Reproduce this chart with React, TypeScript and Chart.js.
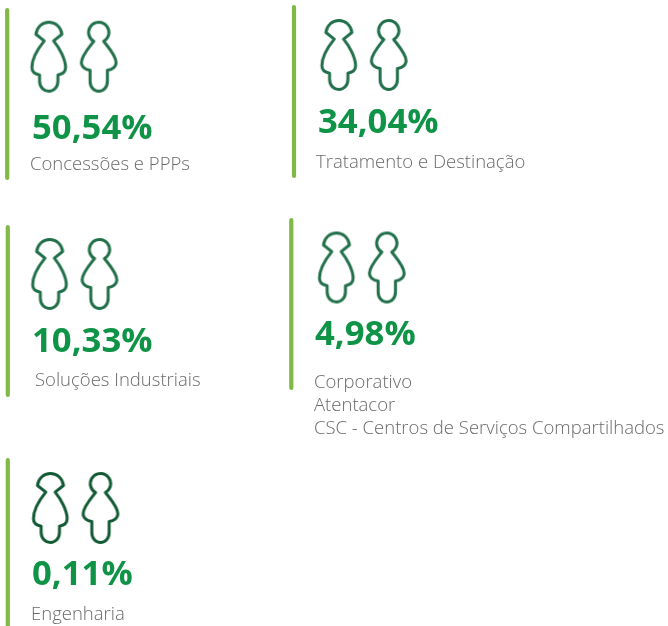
import React, { useEffect, useRef } from "react";
import { Chart, registerables } from "chart.js";

Chart.register(...registerables);

// ---- data ----
const categories: string[][] = [
  ["Concessões e PPPs"],
  ["Tratamento e Destinação"],
  ["Soluções Industriais"],
  ["Corporativo", "Atentacor", "CSC - Centros de Serviços Compartilhados"],
  ["Engenharia"],
];
const shares = [50.54, 34.04, 10.33, 4.98, 0.11];

// ---- layout, in page units of the hidden axes ----
const barX = [7.2, 294, 7.8, 291.3, 7.8];
const barTop = [10, 7, 227, 220, 460];
const barBottom = [178, 176, 395, 388, 640];
const femaleX = [48.7, 338.7, 49.5, 336.3, 50.3];
const maleX = [98.7, 388.7, 99.5, 386.8, 100.5];
const iconY = [56.7, 55, 274, 267.5, 508];
const valueX = [32, 318, 32, 315, 32];
const valueY = [138.5, 133, 351.5, 345, 585];
const labelX = [30, 316, 35, 314, 31];
const labelY = [170, 168, 386, 388, 620];
const labelLineHeight = 23;

const GREEN_BAR = "#82b946";
const GREEN_ICON = ["#21704a", "#21704a", "#21704a", "#21704a", "#125a34"];
const GREEN_VALUE = "#0f9447";
const GREY_TEXT = "#6a6a6a";

function iconCanvas(
  trace: (c: CanvasRenderingContext2D) => void,
  cx: number,
  cy: number,
  colour: string
) {
  const w = 60;
  const h = 90;
  const cv = document.createElement("canvas");
  cv.width = w;
  cv.height = h;
  const c = cv.getContext("2d")!;
  c.translate(w / 2, h / 2);
  c.scale(1 / 3, 1 / 3);
  c.translate(-cx, -cy);
  c.strokeStyle = colour;
  c.lineWidth = 9;
  c.lineJoin = "round";
  c.lineCap = "round";
  c.beginPath();
  trace(c);
  c.closePath();
  c.stroke();
  return cv;
}

function female(c: CanvasRenderingContext2D) {
  c.moveTo(72, 90);
  c.lineTo(47, 70);
  c.bezierCurveTo(50, 48, 66, 34, 86, 34);
  c.bezierCurveTo(106, 34, 122, 48, 125, 70);
  c.lineTo(100, 90);
  c.bezierCurveTo(118, 112, 136, 145, 136, 170);
  c.bezierCurveTo(136, 183, 126, 190, 113, 192);
  c.lineTo(113, 210);
  c.bezierCurveTo(113, 230, 100, 241, 86, 241);
  c.bezierCurveTo(72, 241, 58, 230, 58, 210);
  c.lineTo(58, 192);
  c.bezierCurveTo(45, 190, 35, 183, 35, 170);
  c.bezierCurveTo(35, 145, 54, 112, 72, 90);
}

function male(c: CanvasRenderingContext2D) {
  const deg = Math.PI / 180;
  c.arc(0, 64.5, 30.5, 119 * deg, 61 * deg, false);
  c.bezierCurveTo(28, 108, 52, 135, 52, 155);
  c.bezierCurveTo(52, 168, 40, 176, 26, 178);
  c.lineTo(26, 210);
  c.bezierCurveTo(26, 230, 14, 241, 0, 241);
  c.bezierCurveTo(-14, 241, -26, 230, -26, 210);
  c.lineTo(-26, 178);
  c.bezierCurveTo(-40, 176, -52, 168, -52, 155);
  c.bezierCurveTo(-52, 135, -28, 108, -14.8, 91);
}

const formatShare = (v: number) => v.toFixed(2).replace(".", ",") + "%";

const textPlugin = {
  id: "panelText",
  afterDatasetsDraw(chart: any) {
    const { ctx, scales } = chart;
    ctx.save();
    ctx.textAlign = "left";
    ctx.textBaseline = "alphabetic";
    shares.forEach((s, i) => {
      ctx.fillStyle = GREEN_VALUE;
      ctx.font = "700 34.7px 'Open Sans'";
      ctx.fillText(formatShare(s), scales.x.getPixelForValue(valueX[i]), scales.y.getPixelForValue(valueY[i]));
      ctx.fillStyle = GREY_TEXT;
      ctx.font = "300 18.5px 'Open Sans'";
      categories[i].forEach((line, j) => {
        ctx.fillText(
          line,
          scales.x.getPixelForValue(labelX[i]),
          scales.y.getPixelForValue(labelY[i] + j * labelLineHeight)
        );
      });
    });
    ctx.restore();
  },
};

export default function App() {
  const ref = useRef<HTMLCanvasElement>(null);
  useEffect(() => {
    const femaleImgs = GREEN_ICON.map((col) => iconCanvas(female, 85.5, 137.5, col));
    const maleImgs = GREEN_ICON.map((col) => iconCanvas(male, 0, 137.5, col));
    const chart = new Chart(ref.current!, {
      type: "scatter",
      data: {
        datasets: [
          ...barX.map((x, i) => ({
            type: "line" as const,
            label: categories[i][0],
            data: [
              { x, y: barTop[i] },
              { x, y: barBottom[i] },
            ],
            borderColor: GREEN_BAR,
            borderWidth: 4.2,
            borderCapStyle: "round" as const,
            pointRadius: 0,
            clip: false as any,
          })),
          {
            label: "female",
            data: femaleX.map((x, i) => ({ x, y: iconY[i] })),
            pointStyle: femaleImgs as any,
            clip: false as any,
          },
          {
            label: "male",
            data: maleX.map((x, i) => ({ x, y: iconY[i] })),
            pointStyle: maleImgs as any,
            clip: false as any,
          },
        ],
      },
      options: {
        animation: false,
        responsive: false,
        layout: { padding: 0, autoPadding: false },
        plugins: { legend: { display: false }, tooltip: { enabled: false } },
        scales: {
          x: { type: "linear", display: false, min: 0, max: 668 },
          y: { type: "linear", display: false, min: 0, max: 626, reverse: true },
        },
      },
      plugins: [textPlugin],
    } as any);
    return () => chart.destroy();
  }, []);
  return (
    <div style={{ position: "absolute", left: 0, top: 0, width: 668, height: 626, background: "#fff" }}>
      <canvas ref={ref} width={668} height={626} style={{ display: "block" }} />
    </div>
  );
}
